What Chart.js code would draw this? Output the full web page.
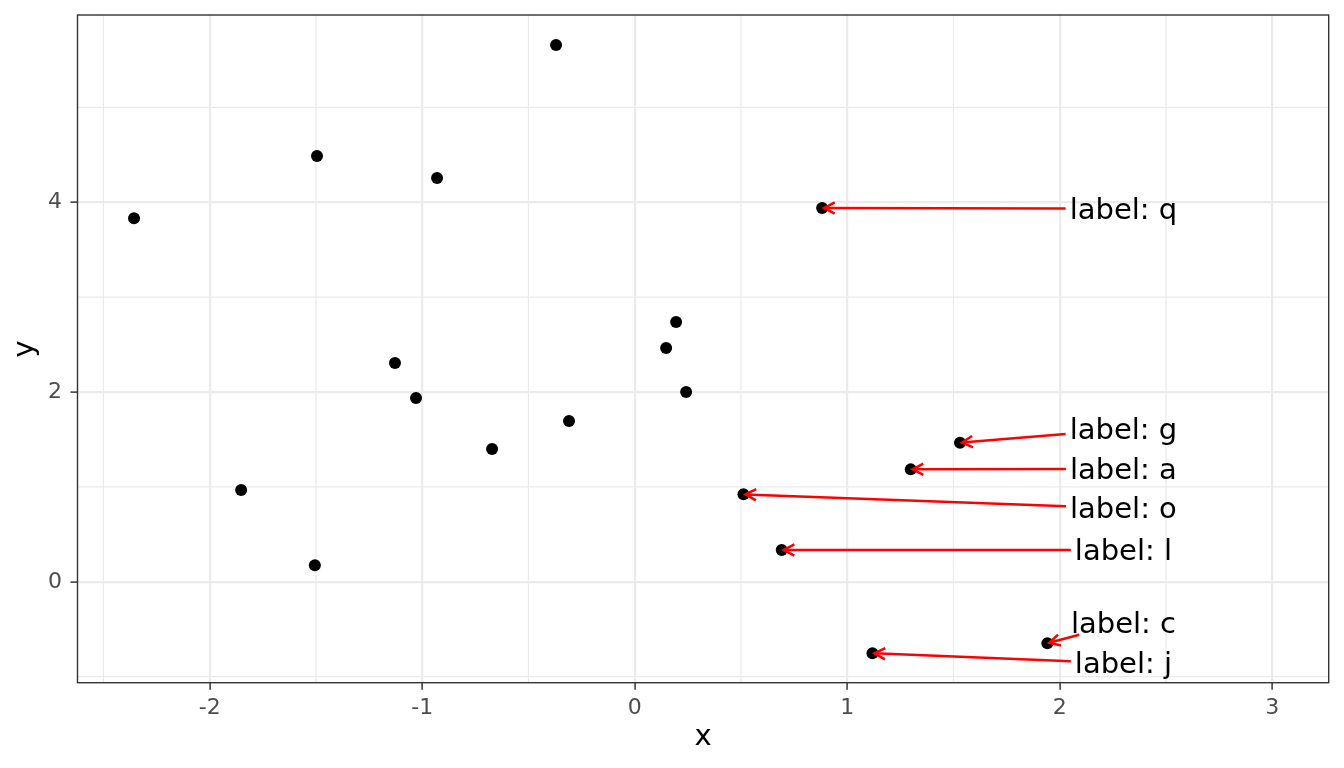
<!DOCTYPE html>
<html>
<head>
<meta charset="utf-8">
<script src="https://cdn.jsdelivr.net/npm/chart.js@4.4.1/dist/chart.umd.min.js"></script>
<style>
  html, body { margin: 0; padding: 0; background: #fff; }
  canvas { display: block; }
</style>
</head>
<body>
<canvas id="scatter-chart" width="1344" height="768"></canvas>
<script>
// points
const pointX = [-2.356, -1.495, -0.930, -0.370, 0.882, 0.195, 0.148, 0.242, -1.128, -1.029,
                -0.309, -0.671, -1.852, -1.505, 1.531, 1.299, 0.512, 0.692, 1.942, 1.119];
const pointY = [3.830, 4.486, 4.255, 5.656, 3.939, 2.738, 2.464, 2.001, 2.306, 1.937,
                1.694, 1.399, 0.968, 0.174, 1.466, 1.185, 0.922, 0.335, -0.648, -0.753];

// repelled labels: text, which point they belong to, where the label sits
const labelText = ['label: q', 'label: g', 'label: a', 'label: o', 'label: l', 'label: c', 'label: j'];
const labelPoint = [4, 14, 15, 16, 17, 18, 19];
const labelX = [2.30, 2.30, 2.30, 2.30, 2.30, 2.30, 2.30];
const labelY = [3.905, 1.580, 1.165, 0.747, 0.308, -0.457, -0.886];

// axes
const xTicks = [-2, -1, 0, 1, 2, 3];
const yTicks = [0, 2, 4];
const xMinor = [-2.5, -1.5, -0.5, 0.5, 1.5, 2.5];
const yMinor = [-1, 1, 3, 5];

const FONT = 'DejaVu Sans';

// minor grid underneath, labels + arrows + panel border on top
const panelPlugin = {
    id: 'panel',
    beforeDraw(chart) {
        const { ctx, chartArea: a, scales: { x, y } } = chart;
        ctx.save();
        ctx.strokeStyle = '#EBEBEB';
        ctx.lineWidth = 1.2;
        ctx.beginPath();
        xMinor.forEach(v => {
            const px = x.getPixelForValue(v);
            ctx.moveTo(px, a.top);
            ctx.lineTo(px, a.bottom);
        });
        yMinor.forEach(v => {
            const py = y.getPixelForValue(v);
            ctx.moveTo(a.left, py);
            ctx.lineTo(a.right, py);
        });
        ctx.stroke();
        ctx.restore();
    },
    afterDatasetsDraw(chart) {
        const { ctx, chartArea: a, scales: { x, y } } = chart;
        ctx.save();
        ctx.font = '29px "' + FONT + '"';

        labelText.forEach((txt, i) => {
            const cx = x.getPixelForValue(labelX[i]);
            const cy = y.getPixelForValue(labelY[i]);
            const px = x.getPixelForValue(pointX[labelPoint[i]]);
            const py = y.getPixelForValue(pointY[labelPoint[i]]);

            // clip the centre->point line at the label box (box sits a bit above the text middle)
            const by = cy - 2.5;
            const hw = ctx.measureText(txt).width / 2 + 4;
            const hh = 12;
            const dx = px - cx, dy = py - by;
            let t = Math.abs(hw / dx);
            if (Math.abs(dy * t) > hh) t = Math.abs(hh / dy);
            const sx = cx + dx * t, sy = by + dy * t;

            // tip stops just short of the point centre
            const len = Math.hypot(px - sx, py - sy);
            const ux = (px - sx) / len, uy = (py - sy) / len;
            const tx = px - ux * 2, ty = py - uy * 2;

            ctx.strokeStyle = '#FF0000';
            ctx.lineWidth = 2.5;
            ctx.lineCap = 'butt';
            ctx.beginPath();
            ctx.moveTo(sx, sy);
            ctx.lineTo(tx, ty);
            ctx.stroke();

            const ang = Math.atan2(uy, ux);
            const head = 12, spread = 28 * Math.PI / 180;
            ctx.beginPath();
            ctx.moveTo(tx - head * Math.cos(ang - spread), ty - head * Math.sin(ang - spread));
            ctx.lineTo(tx, ty);
            ctx.lineTo(tx - head * Math.cos(ang + spread), ty - head * Math.sin(ang + spread));
            ctx.stroke();

            ctx.fillStyle = '#000000';
            ctx.textAlign = 'center';
            ctx.textBaseline = 'middle';
            ctx.fillText(txt, cx, cy);
        });

        ctx.strokeStyle = '#333333';
        ctx.lineWidth = 1.4;
        ctx.strokeRect(a.left, a.top, a.right - a.left, a.bottom - a.top);
        ctx.restore();
    }
};

const ctx = document.getElementById('scatter-chart').getContext('2d');
new Chart(ctx, {
    type: 'scatter',
    data: {
        datasets: [{
            data: pointX.map((v, i) => ({ x: v, y: pointY[i] })),
            backgroundColor: '#000000',
            borderWidth: 0,
            pointRadius: 6,
            pointHoverRadius: 6
        }]
    },
    options: {
        responsive: false,
        animation: false,
        events: [],
        layout: { padding: { top: 15, right: 15.3, left: 0, bottom: 0 } },
        plugins: {
            legend: { display: false },
            tooltip: { enabled: false }
        },
        scales: {
            x: {
                type: 'linear',
                min: -2.622,
                max: 3.266,
                afterBuildTicks: s => { s.ticks = xTicks.map(v => ({ value: v })); },
                afterFit: s => { s.height = 85.3; s.paddingLeft = 0; s.paddingRight = 0; },
                grid: { color: '#EBEBEB', lineWidth: 2.2, tickLength: 7, tickColor: '#333333', tickWidth: 1.5 },
                border: { display: false },
                ticks: {
                    font: { family: FONT, size: 22 },
                    color: '#4D4D4D',
                    padding: 5,
                    maxRotation: 0,
                    callback: v => String(v)
                },
                title: {
                    display: true,
                    text: 'x',
                    color: '#000000',
                    font: { family: FONT, size: 29 },
                    padding: 13
                }
            },
            y: {
                type: 'linear',
                min: -1.063,
                max: 5.973,
                afterBuildTicks: s => { s.ticks = yTicks.map(v => ({ value: v })); },
                afterFit: s => { s.width = 77.5; s.paddingTop = 0; s.paddingBottom = 0; },
                grid: { color: '#EBEBEB', lineWidth: 2.2, tickLength: 7, tickColor: '#333333', tickWidth: 1.5 },
                border: { display: false },
                ticks: {
                    font: { family: FONT, size: 22 },
                    color: '#4D4D4D',
                    padding: 8.5,
                    callback: v => String(v)
                },
                title: {
                    display: true,
                    text: 'y',
                    color: '#000000',
                    font: { family: FONT, size: 29 },
                    padding: 8
                }
            }
        }
    },
    plugins: [panelPlugin]
});
</script>
</body>
</html>
